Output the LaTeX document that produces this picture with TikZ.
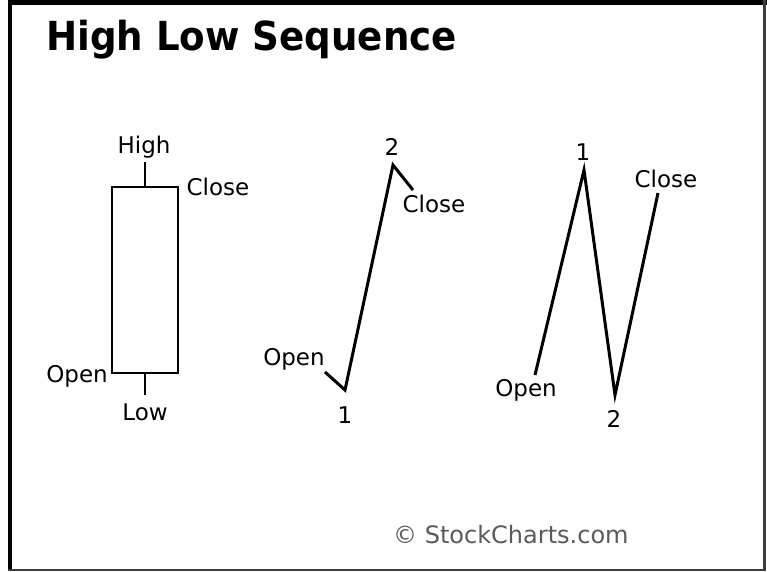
\documentclass[tikz,border=0pt]{standalone}
\usepackage{fontspec}
\setmainfont{DejaVu Sans}
\usepackage{tikz}
\definecolor{credit}{RGB}{90,90,90}
\definecolor{edge}{RGB}{60,60,60}

\begin{document}
\begin{tikzpicture}[
        x=1pt, y=-1pt,
        lbl/.style={font=\fontsize{23}{23}\selectfont, inner sep=0pt, anchor=base},
        heading/.style={font=\fontsize{40}{40}\selectfont\bfseries, inner sep=0pt, anchor=base west},
        body/.style={draw, line width=2pt, minimum width=66pt, minimum height=186pt, inner sep=0pt},
        wick/.style={line width=2pt},
        swing/.style={line width=3pt, line join=miter, miter limit=10}
    ]
        \useasboundingbox (0,0) rectangle (767,571);
        \fill[white] (0,0) rectangle (767,571);

        % frame
        \fill[black] (8,0) rectangle (767,4.7);
        \fill[black] (8,0) rectangle (12.3,571);
        \fill[edge] (763,0) rectangle (766,571);
        \fill[edge] (8,568.7) rectangle (766,571);

        \node[heading] (title) at (46,50) {\scalebox{0.93}[1]{High Low Sequence}};

        % candle
        \node[body] (candle) at (145,280) {};
        \coordinate (high) at (145,162);
        \coordinate (low) at (145,395);
        \draw[wick] (candle.north) -- (high);
        \draw[wick] (candle.south) -- (low);
        \node[lbl] (highlbl) at (144,153) {High};
        \node[lbl] (lowlbl) at (145,420) {Low};
        \node[lbl] (closelbl) at (218,195) {Close};
        \node[lbl, anchor=base east] (openlbl) at (108,382) {Open};

        % high first
        \coordinate (a0) at (325,372);
        \coordinate (a1) at (345,390);
        \coordinate (a2) at (393,165);
        \coordinate (a3) at (413,190);
        \draw[swing] (a0) -- (a1) -- (a2) -- (a3);
        \node[lbl] (aopen) at (294,365) {Open};
        \node[lbl] (aone) at (345,423) {1};
        \node[lbl] (atwo) at (392,155) {2};
        \node[lbl] (aclose) at (434,212) {Close};

        % low first
        \coordinate (b0) at (535,375);
        \coordinate (b1) at (584,170);
        \coordinate (b2) at (615,395);
        \coordinate (b3) at (658,193);
        \draw[swing] (b0) -- (b1) -- (b2) -- (b3);
        \node[lbl] (bopen) at (526,396) {Open};
        \node[lbl] (bone) at (583,160) {1};
        \node[lbl] (btwo) at (614,427) {2};
        \node[lbl] (bclose) at (666,187) {Close};

        \node[lbl, anchor=base west, text=credit, font=\fontsize{24}{24}\selectfont] (credit) at (393,543) {© StockCharts.com};
    \end{tikzpicture}
\end{document}
